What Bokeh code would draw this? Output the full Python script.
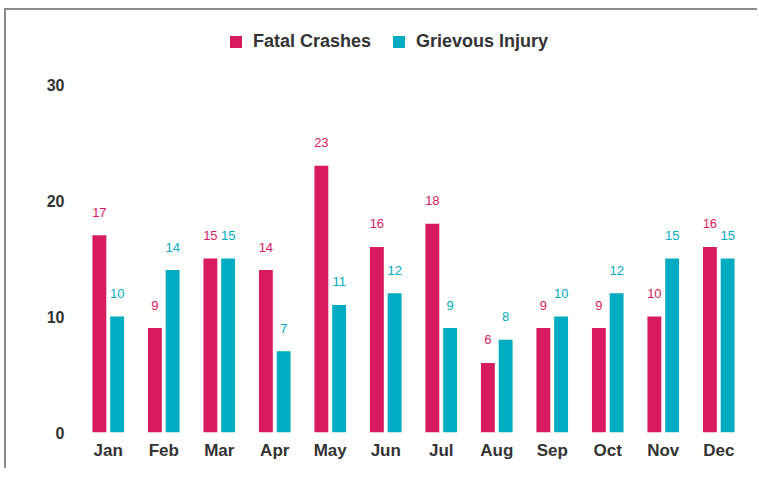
from bokeh.plotting import figure
from bokeh.models import ColumnDataSource, FixedTicker, Legend, LegendItem
from bokeh.transform import dodge
from bokeh.core.properties import value
from bokeh.embed import file_html
from bokeh.resources import INLINE

months = ["Jan", "Feb", "Mar", "Apr", "May", "Jun", "Jul", "Aug", "Sep", "Oct", "Nov", "Dec"]
fatal_crashes = [17, 9, 15, 14, 23, 16, 18, 6, 9, 9, 10, 16]
grievous_injury = [10, 14, 15, 7, 11, 12, 9, 8, 10, 12, 15, 15]
y_ticks = [0, 10, 20, 30]

RED = "#D81B60"
CYAN = "#00ACC1"
FONT = "Liberation Sans"

src = ColumnDataSource(dict(
    month=months,
    fatal=fatal_crashes,
    grievous=grievous_injury,
    fatal_txt=[str(v) for v in fatal_crashes],
    grievous_txt=[str(v) for v in grievous_injury],
))

p = figure(x_range=months, y_range=(0, 35), width=753, height=460,
           output_backend="svg", toolbar_location=None,
           min_border_left=74, min_border_right=13, min_border_top=16, min_border_bottom=38)
p.styles = {"border-top": "2px solid #8a8a8a", "border-left": "2px solid #8a8a8a",
            "margin-left": "4px", "margin-top": "8px"}

r1 = p.vbar(x=dodge("month", -0.16, range=p.x_range), top="fatal", width=0.25,
            source=src, color=RED, line_color=None)
r2 = p.vbar(x=dodge("month", 0.16, range=p.x_range), top="grievous", width=0.25,
            source=src, color=CYAN, line_color=None)

p.text(x=dodge("month", -0.16, range=p.x_range), y="fatal", text="fatal_txt", source=src,
       text_color=RED, text_font=value(FONT), text_font_size="13px",
       text_align="center", text_baseline="middle", y_offset=-23)
p.text(x=dodge("month", 0.16, range=p.x_range), y="grievous", text="grievous_txt", source=src,
       text_color=CYAN, text_font=value(FONT), text_font_size="13px",
       text_align="center", text_baseline="middle", y_offset=-23)

legend = Legend(items=[LegendItem(label="Fatal Crashes", renderers=[r1]),
                       LegendItem(label="Grievous Injury", renderers=[r2])],
                orientation="horizontal", location=(148, 380),
                label_text_font=FONT, label_text_font_size="18px", label_text_font_style="bold",
                label_text_color="#333333", glyph_width=15, glyph_height=15,
                label_standoff=10, spacing=20, padding=10, margin=0,
                background_fill_alpha=0, border_line_color=None)
p.add_layout(legend)

p.yaxis.ticker = FixedTicker(ticks=y_ticks)
for ax in (p.xaxis[0], p.yaxis[0]):
    ax.axis_line_color = None
    ax.major_tick_line_color = None
    ax.minor_tick_line_color = None
    ax.major_tick_out = 0
    ax.major_tick_in = 0
    ax.major_label_text_font = FONT
    ax.major_label_text_font_style = "bold"
    ax.major_label_text_color = "#333333"
p.xaxis.major_label_text_font_size = "17px"
p.yaxis.major_label_text_font_size = "16px"
p.yaxis.major_label_standoff = 16
p.xaxis.major_label_standoff = 8

p.xgrid.grid_line_color = None
p.ygrid.grid_line_color = None
p.outline_line_color = None
p.x_range.range_padding = 0

open("out.html", "w").write(file_html(p, INLINE))
